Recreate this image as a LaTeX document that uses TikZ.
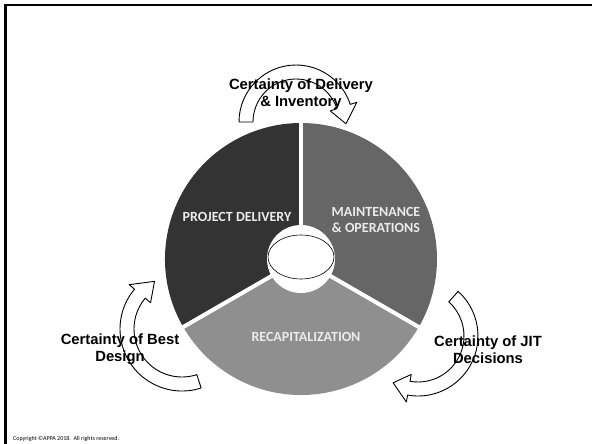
\documentclass[tikz,border=0pt]{standalone}
\usepackage{fontspec}
\setmainfont{Liberation Sans}
\newfontfamily\calibri{Carlito}

% block arrow bent round a centre: cx, cy, radius, start, end, tip
\newcommand{\bentArrow}[6]{%
  \pgfmathsetmacro{\rOut}{#3+7}\pgfmathsetmacro{\rIn}{#3-7}%
  \pgfmathsetmacro{\hOut}{#3+14}\pgfmathsetmacro{\hIn}{#3-14}%
  \draw[bent arrow, shift={(#1,#2)}] (#4:\rOut) arc[start angle=#4, end angle=#5, radius=\rOut]
    -- (#5:\hOut) -- (#6:#3) -- (#5:\hIn) -- (#5:\rIn)
    arc[start angle=#5, end angle=#4, radius=\rIn] -- cycle;}

\begin{document}
\begin{tikzpicture}[x=1pt, y=-1pt,
		slice label/.style={font=\calibri\bfseries\fontsize{14}{16}\selectfont,
			text=white!92!black, align=center, inner sep=0pt},
		cycle label/.style={font=\bfseries\fontsize{14.8}{17}\selectfont, align=center, inner sep=0pt},
		bent arrow/.style={draw=black, fill=white, line width=0.9pt, line join=round}]
	\useasboundingbox (0,0) rectangle (592,444);
	\draw[line width=2.5pt] (5.5,444) -- (5.5,5) -- (592,5);
	
	% wheel
	\coordinate (hub) at (301,259);
	\fill[black!80] (hub) -- ++(150:136) arc[start angle=150, end angle=270, radius=136] -- cycle;
	\fill[black!60] (hub) -- ++(270:136) arc[start angle=270, end angle=390, radius=136] -- cycle;
	\fill[black!44] (hub) -- ++(30:136) arc[start angle=30, end angle=150, radius=136] -- cycle;
	\foreach \a in {30,150,270}
		\draw[white, line width=4pt] (hub) -- ++(\a:138);
	\fill[white] (hub) circle[radius=34];
	\draw[line width=0.6pt] (301,257) ellipse[x radius=33, y radius=22];
	
	\node[slice label] (project) at (237,217) {PROJECT DELIVERY};
	\node[slice label] (maint) at (376,220) {MAINTENANCE\\\& OPERATIONS};
	\node[slice label] (recap) at (306,337) {RECAPITALIZATION};
	
	% arrows round the wheel
	\bentArrow{296}{122}{50}{180}{342}{362}
	\bentArrow{182}{329}{55}{72}{220}{240}
	\bentArrow{418}{336}{53}{-48}{100}{118}
	
	\node[cycle label] (delivery) at (301,94.5) {Certainty of Delivery\\\& Inventory};
	\node[cycle label] (design) at (120,349.5) {Certainty of Best\\Design};
	\node[cycle label] (jit) at (488,349.5) {Certainty of JIT\\Decisions};
	
	\node[font=\calibri\fontsize{6}{7}\selectfont, anchor=west, inner sep=0pt] (copyright)
		at (13,438.5) {Copyright ©APPA 2018.~~All rights reserved.};
\end{tikzpicture}
\end{document}
